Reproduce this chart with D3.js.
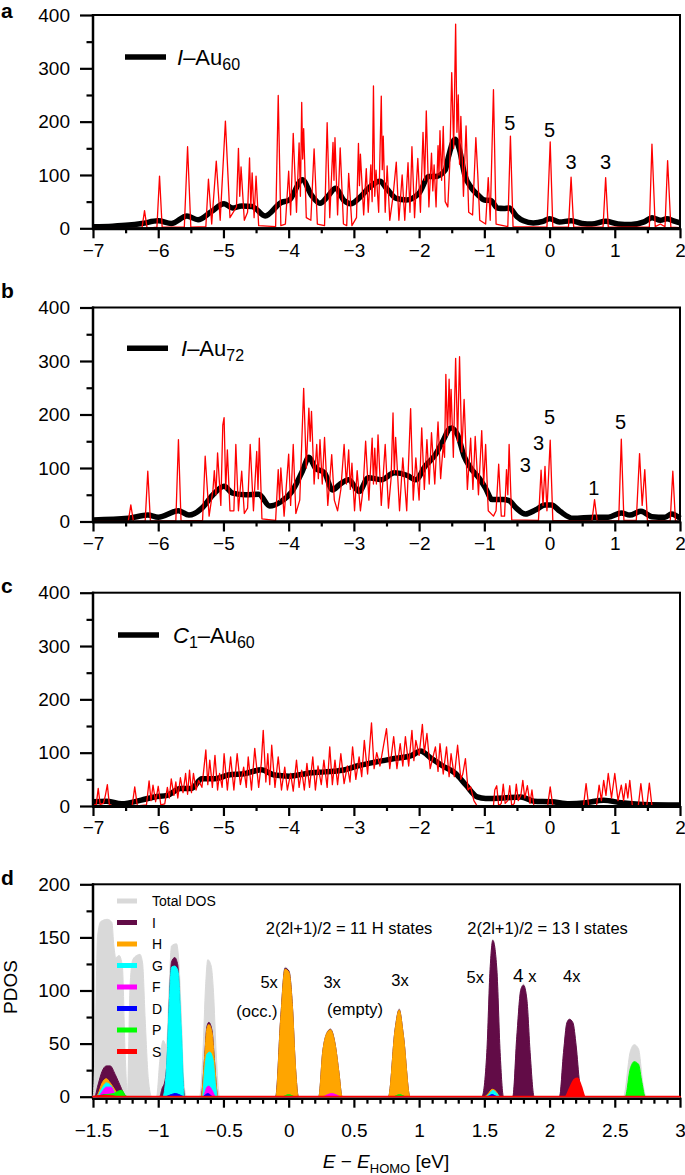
<!DOCTYPE html>
<html><head><meta charset="utf-8">
<script src="https://cdn.jsdelivr.net/npm/d3@7"></script>
<style>body{margin:0;background:#fff}</style>
</head><body><svg id="c" width="685" height="1175"></svg>
<script>
// ---------------- DATA ----------------
const xTicksMain = [-7,-6,-5,-4,-3,-2,-1,0,1,2];
const yTicksMain = [0,100,200,300,400];
const xTicksD = [-1.5,-1,-0.5,0,0.5,1,1.5,2,2.5,3];
const yTicksD = [0,50,100,150,200];

// Panel a: red (DOS line) vertices [E, value], black (broadened) curve
const redA = [[-7,0],[-6.25,0],[-6.21,33],[-6.17,0],[-6.02,2],[-5.98,98],[-5.94,2],[-5.6,2],[-5.55,153],[-5.5,2],
[-5.27,3],[-5.23,92],[-5.18,8],[-5.11,126],[-5.05,15],[-4.97,201],[-4.9,20],[-4.8,40],[-4.77,150],[-4.75,60],[-4.73,115],[-4.68,15],[-4.63,30],[-4.60,132],[-4.58,40],[-4.56,104],[-4.53,20],[-4.50,98],[-4.46,5],
[-4.2,3],[-4.16,249],[-4.12,5],[-4.05,8],[-4.0,107],[-3.97,25],[-3.93,178],[-3.88,30],[-3.84,160],[-3.82,60],[-3.80,236],[-3.785,130],[-3.77,187],[-3.73,20],[-3.66,15],[-3.61,149],[-3.56,8],
[-3.45,5],[-3.41,198],[-3.37,20],[-3.32,161],[-3.305,90],[-3.29,170],[-3.25,25],[-3.21,151],[-3.16,8],[-3.11,5],[-3.08,103],[-3.03,5],[-2.96,20],[-2.93,159],[-2.915,80],[-2.90,139],[-2.85,25],[-2.81,112],[-2.78,30],[-2.74,119],[-2.72,50],[-2.70,267],[-2.68,60],[-2.66,109],[-2.62,30],[-2.58,248],[-2.565,110],[-2.55,173],[-2.52,30],[-2.49,117],[-2.45,15],[-2.4,60],[-2.35,124],[-2.31,15],[-2.26,100],[-2.22,15],[-2.17,123],[-2.14,30],[-2.11,153],[-2.07,20],[-2.02,131],[-1.98,30],[-1.94,180],[-1.915,90],[-1.89,220],[-1.85,40],[-1.81,141],[-1.79,70],[-1.77,119],[-1.74,40],[-1.71,155],[-1.695,100],[-1.68,183],[-1.655,90],[-1.63,191],[-1.6,50],[-1.56,40],[-1.53,120],[-1.50,292],[-1.47,150],[-1.44,383],[-1.42,180],[-1.40,250],[-1.38,120],[-1.36,210],[-1.32,60],[-1.28,192],[-1.24,30],[-1.18,25],[-1.13,170],[-1.1,100],[-1.07,15],[-0.98,8],[-0.94,95],[-0.91,15],[-0.86,260],[-0.82,8],
[-0.64,3],[-0.60,173],[-0.56,3],[-0.04,2],[0.01,162],[0.05,2],[0.29,2],[0.33,96],[0.37,2],[0.82,2],[0.86,95],[0.90,2],
[1.53,2],[1.57,158],[1.62,3],[1.7,8],[1.77,3],[1.81,127],[1.86,2],[2,1]];
const blackA = [[-7,3],[-6.7,4],[-6.45,6],[-6.25,9],[-6.0,14],[-5.8,9],[-5.56,23],[-5.39,16],[-5.19,31],[-4.99,46],[-4.86,38],[-4.72,42],[-4.56,41],[-4.36,23],[-4.12,48],[-3.99,53],[-3.79,91],[-3.65,62],[-3.52,47],[-3.4,60],[-3.28,75],[-3.15,52],[-3.05,46],[-2.9,59],[-2.75,78],[-2.6,88],[-2.5,75],[-2.35,56],[-2.2,53],[-2.0,66],[-1.85,97],[-1.75,97],[-1.6,109],[-1.55,134],[-1.45,167],[-1.38,147],[-1.3,100],[-1.2,76],[-1.1,63],[-1.0,53],[-0.9,52],[-0.8,38],[-0.7,37],[-0.62,38],[-0.5,22],[-0.4,14],[-0.25,10],[-0.1,13],[0.0,18],[0.15,12],[0.33,14],[0.5,9],[0.65,8],[0.86,13],[1.05,8],[1.25,7],[1.45,12],[1.57,20],[1.7,15],[1.8,18],[1.9,14],[2.0,10]];

const redB = [[-7,0],[-6.46,0],[-6.42,31],[-6.38,0],[-6.2,1],[-6.16,94],[-6.12,1],[-5.73,1],[-5.69,153],[-5.65,1],
[-5.32,2],[-5.28,122],[-5.22,10],[-5.16,60],[-5.14,95],[-5.115,50],[-5.09,128],[-5.04,30],[-5.01,180],[-4.99,194],[-4.965,60],[-4.94,134],[-4.9,20],[-4.84,20],[-4.81,144],[-4.77,20],[-4.72,94],[-4.68,15],[-4.63,25],[-4.59,144],[-4.54,20],[-4.49,131],[-4.47,60],[-4.45,156],[-4.41,5],
[-4.2,2],[-4.16,97],[-4.14,40],[-4.12,100],[-4.07,10],[-4.0,126],[-3.97,30],[-3.93,144],[-3.89,15],[-3.83,40],[-3.77,249],[-3.73,100],[-3.69,212],[-3.67,150],[-3.65,206],[-3.61,70],[-3.57,144],[-3.545,80],[-3.52,153],[-3.485,70],[-3.45,157],[-3.4,30],[-3.34,125],[-3.3,40],[-3.25,20],[-3.2,60],[-3.15,144],[-3.115,70],[-3.08,134],[-3.055,60],[-3.03,109],[-2.99,20],[-2.95,95],[-2.9,20],[-2.86,60],[-2.82,150],[-2.77,40],[-2.72,156],[-2.70,70],[-2.68,137],[-2.655,70],[-2.63,162],[-2.58,30],[-2.52,144],[-2.47,25],[-2.43,80],[-2.40,203],[-2.38,90],[-2.36,157],[-2.3,20],[-2.25,119],[-2.19,20],[-2.13,211],[-2.09,40],[-2.05,119],[-2.0,40],[-1.96,175],[-1.92,60],[-1.88,153],[-1.845,70],[-1.81,166],[-1.76,70],[-1.71,186],[-1.67,80],[-1.63,144],[-1.61,120],[-1.59,275],[-1.565,160],[-1.54,266],[-1.525,180],[-1.51,247],[-1.475,120],[-1.44,305],[-1.41,150],[-1.38,308],[-1.345,130],[-1.31,228],[-1.26,60],[-1.21,156],[-1.175,60],[-1.14,159],[-1.09,50],[-1.04,170],[-1.01,70],[-0.98,144],[-0.94,20],[-0.86,10],[-0.82,20],[-0.78,107],[-0.74,10],[-0.69,10],[-0.66,97],[-0.64,50],[-0.62,144],[-0.58,3],
[-0.17,2],[-0.13,96],[-0.10,30],[-0.07,103],[-0.04,20],[0.01,152],[0.05,2],[0.65,1],[0.69,41],[0.73,1],[1.06,1],[1.10,154],[1.14,2],
[1.33,2],[1.38,127],[1.42,30],[1.46,97],[1.5,2],[1.85,1],[1.89,94],[1.93,1],[2,0]];
const blackB = [[-7,3],[-6.46,6],[-6.16,12],[-6.0,8],[-5.69,20],[-5.53,12],[-5.33,25],[-5.16,50],[-4.99,66],[-4.86,53],[-4.66,50],[-4.46,51],[-4.29,29],[-4.12,37],[-3.95,56],[-3.79,94],[-3.69,120],[-3.59,100],[-3.45,91],[-3.33,59],[-3.22,69],[-3.08,78],[-2.92,56],[-2.78,82],[-2.58,78],[-2.38,91],[-2.18,86],[-2.05,78],[-1.91,103],[-1.75,125],[-1.65,147],[-1.51,175],[-1.41,162],[-1.31,122],[-1.21,100],[-1.08,81],[-0.98,62],[-0.88,41],[-0.71,41],[-0.62,39],[-0.51,25],[-0.37,14],[-0.21,22],[-0.07,31],[0.03,31],[0.16,19],[0.36,6],[0.69,8],[0.9,8],[1.1,16],[1.23,12],[1.4,19],[1.57,9],[1.77,8],[1.87,14],[2.0,6]];

const redC = [[-7,2],[-6.95,3],[-6.92,33],[-6.89,3],[-6.84,5],[-6.81,20],[-6.78,40],[-6.75,3],[-6.7,0],[-6.4,0],[-6.36,36],[-6.32,0],
[-6.18,2],[-6.14,47],[-6.11,10],[-6.08,39],[-6.04,8],[-6.0,37],[-5.96,2],[-5.9,4],
[-5.86,35],[-5.83,15],[-5.8,51],[-5.76,20],[-5.73,45],[-5.7,15],[-5.66,53],[-5.62,25],[-5.58,61],[-5.55,22],[-5.52,67],[-5.49,25],[-5.46,61],[-5.42,30],[-5.38,48],[-5.33,35],
[-5.27,105],[-5.24,40],[-5.21,86],[-5.17,35],[-5.13,95],[-5.09,30],[-5.06,61],[-5.02,35],[-4.99,98],[-4.94,30],[-4.89,92],[-4.84,30],[-4.79,98],[-4.74,40],[-4.69,73],[-4.65,35],[-4.62,92],[-4.57,30],[-4.52,108],[-4.46,35],[-4.42,80],[-4.39,142],[-4.35,45],[-4.32,98],[-4.29,40],[-4.26,114],[-4.21,35],[-4.16,92],[-4.11,30],
[-4.06,73],[-4.02,30],[-3.97,61],[-3.93,28],[-3.88,86],[-3.84,35],[-3.8,67],[-3.76,30],[-3.72,80],[-3.68,35],[-3.63,92],[-3.59,30],[-3.55,75],[-3.5,40],[-3.46,86],[-3.41,35],[-3.37,111],[-3.33,40],
[-3.29,86],[-3.25,40],[-3.2,98],[-3.15,42],[-3.1,75],[-3.06,45],[-3.02,111],[-2.97,50],[-2.92,92],[-2.88,55],[-2.84,123],[-2.79,60],[-2.73,156],[-2.69,70],[-2.65,100],[-2.6,75],
[-2.5,145],[-2.45,70],[-2.39,130],[-2.34,70],[-2.29,117],[-2.25,75],[-2.21,130],[-2.16,75],[-2.11,142],[-2.08,85],[-2.05,123],[-2.0,95],[-1.95,153],[-1.92,100],[-1.88,136],[-1.83,70],
[-1.75,111],[-1.71,65],[-1.68,117],[-1.63,60],[-1.58,111],[-1.54,55],[-1.51,98],[-1.46,55],[-1.41,114],[-1.36,50],[-1.33,60],[-1.29,89],[-1.25,30],[-1.21,36],[-1.16,10],[-1.11,0],
[-0.86,0],[-0.84,30],[-0.81,38],[-0.78,0],[-0.74,5],[-0.71,41],[-0.68,5],[-0.64,10],[-0.61,38],[-0.58,0],[-0.54,5],[-0.51,41],[-0.48,10],[-0.44,20],[-0.41,48],[-0.38,15],[-0.34,38],[-0.30,5],[-0.27,30],[-0.24,0],
[-0.03,0],[0.01,36],[0.05,0],[0.52,0],[0.56,42],[0.6,0],[0.72,0],[0.76,39],[0.795,10],[0.83,48],[0.865,20],[0.9,61],[0.95,15],[1.0,61],[1.05,10],[1.1,39],[1.135,10],[1.17,42],[1.2,15],[1.23,48],[1.27,0],
[1.36,0],[1.4,42],[1.44,0],[1.49,0],[1.53,43],[1.57,0],[2,0]];
const blackC = [[-7,8],[-6.8,9],[-6.56,4],[-6.26,11],[-6.06,17],[-5.86,20],[-5.66,33],[-5.49,33],[-5.33,51],[-5.13,51],[-4.93,58],[-4.66,61],[-4.42,68],[-4.22,58],[-3.99,56],[-3.72,61],[-3.45,64],[-3.18,67],[-2.92,76],[-2.65,83],[-2.38,89],[-2.11,95],[-1.98,103],[-1.81,89],[-1.65,76],[-1.44,61],[-1.28,39],[-1.11,17],[-0.98,14],[-0.71,15],[-0.44,17],[-0.24,9],[0.03,8],[0.30,4],[0.56,6],[0.83,11],[1.1,6],[1.43,3],[2.0,2]];

// Annotations [E, value, text]
const notesA = [[-0.61,197,"5"],[0.0,184,"5"],[0.33,124,"3"],[0.86,124,"3"]];
const notesB = [[-0.37,106,"3"],[-0.17,147,"3"],[0.0,195,"5"],[0.68,63,"1"],[1.09,186,"5"]];

// Panel d: PDOS components [E, value]
const pdosTotal = [[-1.5,0],[-1.495,5],[-1.48,73],[-1.465,151],[-1.44,165],[-1.39,167],[-1.355,164],[-1.34,142],[-1.325,131],[-1.30,133],[-1.275,123],[-1.254,42],[-1.236,3],[-1.216,104],[-1.195,129],[-1.165,133],[-1.14,134],[-1.12,126],[-1.10,73],[-1.076,17],[-1.05,0],
[-1.013,0],[-0.987,35],[-0.962,53],[-0.937,48],[-0.916,104],[-0.898,142],[-0.86,144],[-0.843,129],[-0.822,73],[-0.805,17],[-0.784,0],
[-0.683,0],[-0.657,42],[-0.637,104],[-0.62,129],[-0.594,123],[-0.576,98],[-0.556,42],[-0.53,0],
[-0.1,0],[-0.061,75],[-0.028,122],[0.003,119],[0.028,88],[0.053,27],[0.076,0],
[0.23,0],[0.261,43],[0.294,61],[0.32,64],[0.358,49],[0.385,23],[0.41,0],
[0.765,0],[0.816,64],[0.847,83],[0.88,58],[0.93,0],
[1.481,0],[1.519,42],[1.544,120],[1.565,148],[1.596,120],[1.621,42],[1.647,0],
[1.718,0],[1.749,57],[1.78,101],[1.80,106],[1.826,92],[1.851,42],[1.882,0],
[2.076,0],[2.107,42],[2.133,70],[2.153,73],[2.179,70],[2.204,48],[2.23,14],[2.256,0],
[2.567,0],[2.618,42],[2.649,49],[2.682,45],[2.715,13],[2.74,0],[3,0]];
const pdosI = [[-1.5,0],[-1.487,0],[-1.464,10],[-1.43,24],[-1.398,29],[-1.368,29],[-1.33,21],[-1.29,10],[-1.254,1],[-1.24,0],
[-0.99,0],[-0.97,8],[-0.95,14],[-0.93,40],[-0.915,90],[-0.898,127],[-0.873,131],[-0.85,124],[-0.83,70],[-0.81,15],[-0.795,0],
[-0.672,0],[-0.645,36],[-0.627,66],[-0.612,70],[-0.587,62],[-0.57,36],[-0.543,0],
[-0.1,0],[-0.061,74],[-0.028,121],[0.003,118],[0.028,87],[0.053,26],[0.075,0],
[0.231,0],[0.261,42],[0.294,60],[0.32,63.5],[0.358,48],[0.385,23],[0.41,0],
[0.765,0],[0.816,63.5],[0.847,82],[0.88,57],[0.93,0],
[1.481,0],[1.519,41.6],[1.544,119.7],[1.565,147.2],[1.596,119.7],[1.621,41.6],[1.647,0],
[1.718,0],[1.749,57],[1.78,101],[1.80,105],[1.826,91.6],[1.851,41.6],[1.882,0],
[2.076,0],[2.107,41.6],[2.133,69.7],[2.153,72.9],[2.179,69.7],[2.204,47.8],[2.23,13.5],[2.256,0],[3,0]];
const pdosH = [[-1.5,0],[-1.48,0],[-1.46,3],[-1.43,13],[-1.398,17],[-1.368,13],[-1.33,6],[-1.30,0],
[-0.67,0],[-0.645,35],[-0.627,64],[-0.612,68],[-0.587,60],[-0.57,35],[-0.543,0],
[-0.099,0],[-0.061,73],[-0.028,120],[0.003,117],[0.028,86],[0.053,26],[0.074,0],
[0.231,0],[0.261,42],[0.294,60],[0.32,63],[0.358,48],[0.385,23],[0.41,0],
[0.765,0],[0.816,63],[0.847,81.6],[0.88,57],[0.93,0],
[1.50,0],[1.53,3],[1.56,7],[1.59,5],[1.62,0],[3,0]];
const pdosG = [[-1.5,0],[-1.47,0],[-1.44,6],[-1.398,13],[-1.36,10],[-1.33,3],[-1.31,0],
[-0.965,0],[-0.937,26],[-0.916,86],[-0.898,122],[-0.873,123],[-0.848,118],[-0.822,60],[-0.80,0],
[-0.66,0],[-0.645,23],[-0.627,40],[-0.605,42],[-0.58,35],[-0.56,10],[-0.545,0],
[1.51,0],[1.54,3],[1.565,6],[1.59,4],[1.62,0],[3,0]];
const pdosF = [[-1.5,0],[-1.46,0],[-1.44,3],[-1.398,9],[-1.36,9],[-1.33,2],[-1.31,0],
[-0.655,0],[-0.627,9],[-0.612,10],[-0.587,6],[-0.56,0],
[0.26,0],[0.30,2],[0.33,3],[0.36,2],[0.40,0],[3,0]];
const pdosD = [[-1.5,0],[-1.45,1],[-1.40,2],[-1.35,2],[-1.30,0],
[-0.95,0],[-0.90,2],[-0.87,3],[-0.84,2],[-0.80,0],
[-0.66,0],[-0.62,3],[-0.58,0],[1.52,0],[1.56,2],[1.60,0],[3,0]];
const pdosP = [[-1.5,0],[-1.45,1],[-1.40,2],[-1.34,3],[-1.31,5],[-1.28,6],[-1.25,1],[-1.23,0],
[-0.05,0],[0.0,2],[0.05,0],[0.80,0],[0.85,2],[0.90,0],
[2.58,0],[2.618,26],[2.649,33],[2.682,30.6],[2.708,13.5],[2.733,0],[3,0]];
const pdosS = [[-1.5,0],[-1.40,1],[-1.30,0],
[2.12,0],[2.158,8.8],[2.189,16],[2.214,17.2],[2.24,10.5],[2.273,0],[3,0]];

const pdosNames = ["Total DOS","I","H","G","F","D","P","S"];
const pdosColors = ["#d9d9d9","#620c47","#ffa500","#00ffff","#ff00ff","#0000ff","#00ff00","#ff0000"];
const pdosSeries = [pdosTotal,pdosI,pdosH,pdosG,pdosF,pdosD,pdosP,pdosS];

const notesD = [[0.463,159,"2(2l+1)/2 = 11 H states"],[1.985,159,"2(2l+1)/2 = 13 I states"],
[-0.15,107.5,"5x"],[-0.243,80.6,"(occ.)"],[0.333,107.5,"3x"],[0.509,82.2,"(empty)"],
[0.854,109.4,"3x"],[1.43,112.5,"5x"],[1.81,114,"4 x"],[2.17,113.4,"4x"]];

// ---------------- DRAWING ----------------
const FONT = '"Liberation Sans", Arial, Helvetica, sans-serif';
const svg = d3.select("#c").style("font-family", FONT);
const L = 93, R = 680;

function styleAxis(s, fs) {
  s.select(".domain").remove();
  s.selectAll("line").attr("stroke", "#000").attr("stroke-width", 2.2);
  s.selectAll("text").attr("font-size", fs).attr("font-family", FONT).attr("fill", "#000");
}

function drawAxes(cfg, x, y) {
  const g = svg.append("g");
  const b = cfg.bottom, t = cfg.top;
  const fmt = d3.format("");
  g.append("g").attr("transform", `translate(0,${b})`)
    .call(d3.axisBottom(x).tickValues(cfg.xMinor).tickSize(cfg.xMinLen).tickFormat(""))
    .call(s => styleAxis(s, 19));
  g.append("g").attr("transform", `translate(0,${b})`)
    .call(d3.axisBottom(x).tickValues(cfg.xTicks).tickSize(10).tickPadding(cfg.xPad).tickFormat(fmt))
    .call(s => styleAxis(s, 19));
  g.append("g").attr("transform", `translate(${L},0)`)
    .call(d3.axisLeft(y).tickValues(cfg.yMinor).tickSize(6.5).tickFormat(""))
    .call(s => styleAxis(s, 19));
  g.append("g").attr("transform", `translate(${L},0)`)
    .call(d3.axisLeft(y).tickValues(cfg.yTicks).tickSize(13).tickPadding(10).tickFormat(fmt))
    .call(s => styleAxis(s, 19));
  g.append("rect").attr("x", L).attr("y", t).attr("width", R - L).attr("height", b - t)
    .attr("fill", "none").attr("stroke", "#000").attr("stroke-width", 2);
  g.append("line").attr("x1", L - 1).attr("x2", R + 1).attr("y1", b + cfg.baseOff).attr("y2", b + cfg.baseOff)
    .attr("stroke", "#000").attr("stroke-width", 3);
  g.append("line").attr("x1", L).attr("x2", L).attr("y1", t - 1).attr("y2", b + 1)
    .attr("stroke", "#000").attr("stroke-width", 2.5);
}

function panelLetter(txt, yb) {
  svg.append("text").attr("x", 1).attr("y", yb).attr("font-size", 21).attr("font-weight", "bold").text(txt);
}

const mainPanels = [
  {letter: "a", top: 15, bottom: 228.3, letterY: 18, red: redA, black: blackA, notes: notesA,
   leg: {x1: 125, x2: 166, y: 57, tx: 177, parts: [["I","italic",0,22],["–Au","normal",0,22],["60","normal",5,16]]}},
  {letter: "b", top: 307.5, bottom: 521.5, letterY: 298, red: redB, black: blackB, notes: notesB,
   leg: {x1: 127, x2: 168, y: 348.3, tx: 181, parts: [["I","italic",0,22],["–Au","normal",0,22],["72","normal",5,16]]}},
  {letter: "c", top: 592.7, bottom: 806, letterY: 593, red: redC, black: blackC, notes: [],
   leg: {x1: 118, x2: 159, y: 635, tx: 173, parts: [["C","italic",0,22],["1","normal",5,16],["–Au","normal",-5,22],["60","normal",5,16]]}}
];

mainPanels.forEach(p => {
  const cfg = {top: p.top, bottom: p.bottom, xTicks: xTicksMain, xMinor: d3.range(-6.5, 2, 1), xMinLen: 5,
    yTicks: yTicksMain, yMinor: [50,150,250,350], xPad: 5, baseOff: 0.5};
  const x = d3.scaleLinear().domain([-7, 2]).range([L, R]);
  const y = d3.scaleLinear().domain([0, 400]).range([p.bottom, p.top]);
  const g = svg.append("g");
  g.append("path").datum(p.black)
    .attr("d", d3.line().x(d => x(d[0])).y(d => y(d[1])).curve(d3.curveMonotoneX))
    .attr("fill", "none").attr("stroke", "#000").attr("stroke-width", 5.5).attr("stroke-linejoin", "round");
  g.append("path").datum(p.red)
    .attr("d", d3.line().x(d => x(d[0])).y(d => y(d[1])))
    .attr("fill", "none").attr("stroke", "#ff0000").attr("stroke-width", 1.3).attr("stroke-linejoin", "round");
  drawAxes(cfg, x, y);
  panelLetter(p.letter, p.letterY);
  // legend
  g.append("line").attr("x1", p.leg.x1).attr("x2", p.leg.x2).attr("y1", p.leg.y).attr("y2", p.leg.y)
    .attr("stroke", "#000").attr("stroke-width", 5.5);
  const t = g.append("text").attr("x", p.leg.tx).attr("y", p.leg.y + 7.5).attr("font-size", 22);
  p.leg.parts.forEach(pt => t.append("tspan").attr("font-style", pt[1]).attr("dy", pt[2]).attr("font-size", pt[3]).text(pt[0]));
  // annotations
  g.selectAll("text.note").data(p.notes).join("text").attr("class", "note")
    .attr("x", d => x(d[0])).attr("y", d => y(d[1])).attr("dy", "0.36em")
    .attr("text-anchor", "middle").attr("font-size", 20).text(d => d[2]);
});

// Panel d
(function () {
  const top = 884.3, bottom = 1097.7;
  const x = d3.scaleLinear().domain([-1.5, 3]).range([L, R]);
  const y = d3.scaleLinear().domain([0, 200]).range([bottom - 1, top]);
  const cfg = {top, bottom, xTicks: xTicksD, xMinor: d3.range(-15, 31).filter(i => i % 5 !== 0).map(i => i / 10), xMinLen: 6,
    yTicks: yTicksD, yMinor: [25,75,125,175], xPad: 16, baseOff: 0.8};
  drawAxes(cfg, x, y);
  const g = svg.append("g");
  const area = d3.area().x(d => x(d[0])).y0(y(0)).y1(d => y(d[1])).curve(d3.curveMonotoneX);
  pdosSeries.forEach((s, i) => {
    g.append("path").datum(s).attr("d", area).attr("fill", pdosColors[i])
      .attr("stroke", pdosColors[i]).attr("stroke-width", i === 7 ? 1.8 : 1).attr("stroke-linejoin", "round");
  });
  panelLetter("d", 885);
  // legend
  pdosNames.forEach((n, i) => {
    const yy = 901 + i * 21.5;
    g.append("rect").attr("x", 117).attr("y", yy - 2.5).attr("width", 20).attr("height", 5).attr("fill", pdosColors[i]);
    g.append("text").attr("x", 152).attr("y", yy + 5).attr("font-size", 14).text(n);
  });
  // annotations
  notesD.forEach(d => {
    const t = g.append("text").attr("x", x(d[0])).attr("y", y(d[1])).attr("dy", "0.36em")
      .attr("text-anchor", "middle").attr("font-size", 16.5);
    if (d[2] === "4 x") { t.append("tspan").attr("font-size", 19).text("4"); t.append("tspan").text(" x"); }
    else t.text(d[2]);
  });
  // axis titles
  svg.append("text").attr("transform", "translate(17,987) rotate(-90)").attr("text-anchor", "middle")
    .attr("font-size", 19).text("PDOS");
  const xt = svg.append("text").attr("x", 386).attr("y", 1168).attr("text-anchor", "middle").attr("font-size", 19);
  xt.append("tspan").attr("font-style", "italic").text("E");
  xt.append("tspan").text(" − ");
  xt.append("tspan").attr("font-style", "italic").text("E");
  xt.append("tspan").attr("font-size", 13).attr("dy", 5).text("HOMO");
  xt.append("tspan").attr("dy", -5).text(" [eV]");
})();
</script></body></html>
